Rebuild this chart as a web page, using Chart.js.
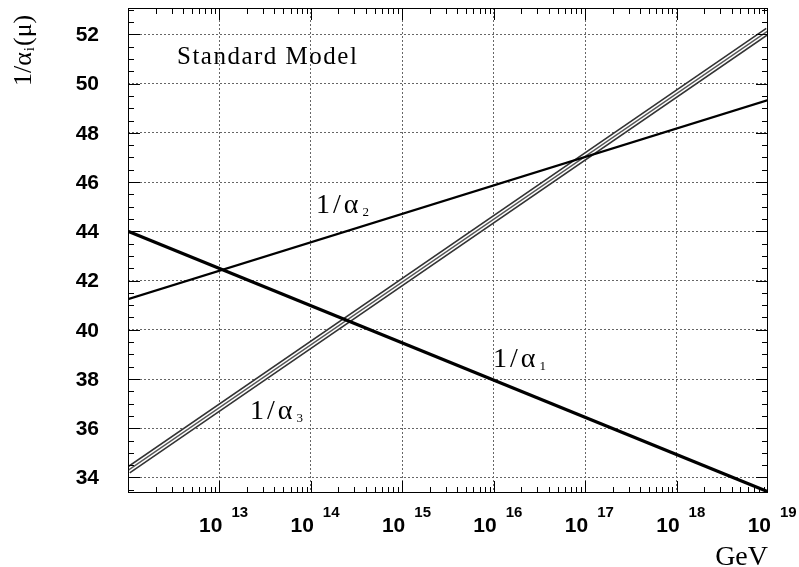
<!DOCTYPE html>
<html>
<head>
<meta charset="utf-8">
<script src="https://cdn.jsdelivr.net/npm/chart.js@4"></script>
<style>
  html, body { margin: 0; padding: 0; background: #fff; }
  #wrap { width: 799px; height: 567px; position: relative; }
</style>
</head>
<body>
<div id="wrap"><canvas id="chart" width="799" height="567"></canvas></div>
<script>
// Running couplings (straight lines in log10 of the scale)
const energyGeV = [1e12, 1e19];
const invAlpha1 = [44.0, 33.42];
const invAlpha2 = [41.24, 49.33];
const invAlpha3 = [34.29, 52.14];

const xTickExponents = [13, 14, 15, 16, 17, 18, 19];
const yTickLabels = [34, 36, 38, 40, 42, 44, 46, 48, 50, 52];

const xRange = [1e12, 1e19];
const yRange = [33.37, 53.07];

const SERIF = '"Liberation Serif", "DejaVu Serif", serif';
const SANS = '"Liberation Sans", Arial, sans-serif';

const toPoints = (xs, ys) => xs.map((x, i) => ({ x: x, y: ys[i] }));

// ROOT style frame: border, inward ticks on all sides, tick labels with exponents
const framePlugin = {
    id: 'frame',
    afterDraw(chart) {
        const ctx = chart.ctx;
        const a = chart.chartArea;
        const xs = chart.scales.x;
        const ys = chart.scales.y;

        ctx.save();
        ctx.strokeStyle = '#000';
        ctx.lineWidth = 1;
        ctx.strokeRect(a.left + 0.5, a.top + 0.5, a.right - a.left - 1, a.bottom - a.top - 1);

        ctx.beginPath();
        // y ticks, minor every 0.5, major every 2
        for (let v = Math.ceil(yRange[0] * 2) / 2; v <= yRange[1]; v += 0.5) {
            const py = Math.round(ys.getPixelForValue(v)) + 0.5;
            const len = (Math.abs(v / 2 - Math.round(v / 2)) < 1e-6) ? 12 : 6;
            ctx.moveTo(a.left, py); ctx.lineTo(a.left + len, py);
            ctx.moveTo(a.right, py); ctx.lineTo(a.right - len, py);
        }
        // x ticks, log minor
        for (let e = 12; e < 19; e++) {
            for (let m = 1; m <= 9; m++) {
                const v = m * Math.pow(10, e);
                if (v <= xRange[0] || v >= xRange[1]) continue;
                const px = Math.round(xs.getPixelForValue(v)) + 0.5;
                const len = m === 1 ? 12 : 6;
                ctx.moveTo(px, a.bottom); ctx.lineTo(px, a.bottom - len);
                ctx.moveTo(px, a.top); ctx.lineTo(px, a.top + len);
            }
        }
        ctx.stroke();

        // y tick labels
        ctx.fillStyle = '#000';
        ctx.font = 'bold 21px ' + SANS;
        ctx.textAlign = 'right';
        ctx.textBaseline = 'middle';
        yTickLabels.forEach(v => {
            ctx.fillText(String(v), a.left - 29, ys.getPixelForValue(v) + 1);
        });

        // x tick labels: 10 with exponent
        ctx.textBaseline = 'alphabetic';
        xTickExponents.forEach(ex => {
            const px = xs.getPixelForValue(Math.pow(10, ex));
            ctx.font = 'bold 21px ' + SANS;
            ctx.textAlign = 'right';
            ctx.fillText('10', px + 3, a.bottom + 39);
            ctx.font = 'bold 15px ' + SANS;
            ctx.textAlign = 'left';
            ctx.fillText(String(ex), px + 12, a.bottom + 24);
        });

        // axis titles
        ctx.font = '28px ' + SERIF;
        ctx.textAlign = 'right';
        ctx.fillText('GeV', a.right, 565);

        ctx.save();
        ctx.translate(31, 86);
        ctx.rotate(-Math.PI / 2);
        drawSub(ctx, '1/\u03b1', 'i', '(\u03bc)', 0, 0, 26, 15, 0);
        ctx.restore();

        // annotations
        ctx.font = '25px ' + SERIF;
        ctx.textAlign = 'left';
        ctx.letterSpacing = '1.5px';
        ctx.fillText('Standard Model', 177, 64);
        ctx.letterSpacing = '0px';

        drawSub(ctx, '1/\u03b1', '2', '', 316, 213, 28, 13, 3);
        drawSub(ctx, '1/\u03b1', '1', '', 493, 367, 28, 13, 3);
        drawSub(ctx, '1/\u03b1', '3', '', 250, 419, 28, 13, 3);
        ctx.restore();
    }
};

function drawSub(ctx, main, sub, tail, x, y, size, subSize, spacing) {
    ctx.textAlign = 'left';
    ctx.textBaseline = 'alphabetic';
    ctx.letterSpacing = spacing + 'px';
    ctx.font = size + 'px ' + SERIF;
    ctx.fillText(main, x, y);
    let w = ctx.measureText(main).width + 1;
    ctx.font = subSize + 'px ' + SERIF;
    ctx.fillText(sub, x + w, y + 3);
    w += ctx.measureText(sub).width + 1;
    if (tail) {
        ctx.font = size + 'px ' + SERIF;
        ctx.fillText(tail, x + w, y);
    }
    ctx.letterSpacing = '0px';
}

const lineBase = {
    fill: false,
    pointRadius: 0,
    tension: 0,
    borderCapStyle: 'butt'
};

new Chart(document.getElementById('chart'), {
    type: 'line',
    data: {
        datasets: [
            Object.assign({}, lineBase, { label: '1/a1', data: toPoints(energyGeV, invAlpha1), borderColor: '#000', borderWidth: 3.2, order: 0 }),
            Object.assign({}, lineBase, { label: '1/a2', data: toPoints(energyGeV, invAlpha2), borderColor: '#000', borderWidth: 2.2, order: 1 }),
            // alpha3 drawn as a band: dark edges, white gap, grey centre
            Object.assign({}, lineBase, { label: '1/a3', data: toPoints(energyGeV, invAlpha3), borderColor: '#555', borderWidth: 1.4, order: 2 }),
            Object.assign({}, lineBase, { label: '1/a3 gap', data: toPoints(energyGeV, invAlpha3), borderColor: '#fff', borderWidth: 4.4, order: 3 }),
            Object.assign({}, lineBase, { label: '1/a3 band', data: toPoints(energyGeV, invAlpha3), borderColor: '#333', borderWidth: 7.6, order: 4 })
        ]
    },
    options: {
        responsive: false,
        animation: false,
        events: [],
        layout: { padding: { left: 128, right: 31, top: 8, bottom: 74 } },
        plugins: {
            legend: { display: false },
            tooltip: { enabled: false }
        },
        scales: {
            x: {
                type: 'logarithmic',
                min: xRange[0],
                max: xRange[1],
                afterBuildTicks: axis => {
                    axis.ticks = xTickExponents.slice(0, -1).map(e => ({ value: Math.pow(10, e) }));
                },
                ticks: { display: false },
                grid: { color: '#666', lineWidth: 1, drawTicks: false },
                border: { display: false, dash: [2, 2] }
            },
            y: {
                type: 'linear',
                min: yRange[0],
                max: yRange[1],
                afterBuildTicks: axis => {
                    axis.ticks = yTickLabels.map(v => ({ value: v }));
                },
                ticks: { display: false },
                grid: { color: '#666', lineWidth: 1, drawTicks: false },
                border: { display: false, dash: [2, 2] }
            }
        }
    },
    plugins: [framePlugin]
});
</script>
</body>
</html>
